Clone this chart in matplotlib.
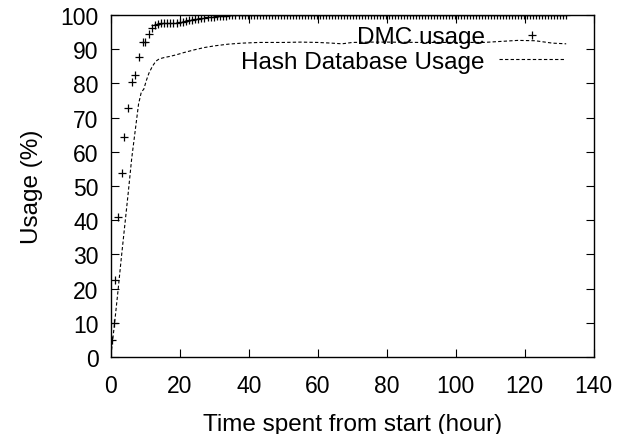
import numpy as np
import matplotlib
matplotlib.use("Agg")
import matplotlib.pyplot as plt

plt.rcParams['font.family'] = ['Liberation Sans', 'DejaVu Sans']

# DMC usage (hours, %)
dmc_hours = [0.2, 0.9, 1.2, 2.1, 3.1, 3.9, 5.0, 6.1, 6.9, 8.0, 9.2, 10.0, 11.0, 11.9,
             12.8, 13.6, 14.5, 15.4, 16.3, 17.2, 18.1, 19.0, 19.9, 20.8, 21.7,
             22.6, 23.5, 24.4, 25.3, 26.2, 27.1, 28.0, 28.9, 29.8, 30.7, 31.6,
             32.5, 33.4, 34.3, 35.2, 36.1, 37.0]
dmc_usage = [5.1, 9.8, 22.5, 41.0, 53.8, 64.2, 72.8, 80.4, 82.5, 87.8, 92.0, 92.2,
             94.4, 96.1, 97.1, 97.5, 97.6, 97.7, 97.7, 97.7, 97.8, 97.8, 97.9,
             98.1, 98.3, 98.5, 98.7, 98.8, 99.0, 99.1, 99.2, 99.3, 99.4, 99.5,
             99.6, 99.7, 99.8, 99.8, 99.9, 99.9, 99.9, 100.0]
# plateau at 100 % until the end of the run
plateau = list(np.arange(38.0, 132.5, 0.87))
dmc_hours += plateau
dmc_usage += [100.0] * len(plateau)

# Hash database usage (hours, %)
hash_hours = [0, 1, 2, 3, 4, 5, 6, 7, 8, 8.8, 9.5, 10.3, 11, 12, 13, 14, 15.5, 17,
              19, 21, 24, 27, 30, 34, 38, 43, 50, 55, 60, 64, 67, 70, 75, 80, 90,
              100, 108, 113, 118, 123, 128, 132]
hash_usage = [0.5, 9.5, 19, 29, 38.5, 48, 58, 66, 74, 77.5, 78.3, 81, 83, 85,
              86.5, 87.2, 87.6, 87.9, 88.4, 89.0, 89.8, 90.5, 91.0, 91.5, 91.8,
              92.0, 92.0, 92.1, 92.0, 91.8, 91.6, 92.0, 92.1, 92.1, 92.0, 92.0,
              92.0, 92.3, 92.6, 92.5, 91.8, 91.6]

fig = plt.figure(figsize=(6.27, 4.35), dpi=100)
ax = fig.add_axes([0.177, 0.177, 0.770, 0.786])

ax.plot(dmc_hours, dmc_usage, linestyle='none', marker='+', markersize=6,
        markeredgewidth=0.9, color='black', label='DMC usage')
ax.plot(hash_hours, hash_usage, linestyle=(0, (3, 2)), linewidth=0.8,
        color='black', label='Hash Database Usage')

ax.set_xlim(0, 140)
ax.set_ylim(0, 100)
ax.set_xticks(np.arange(0, 141, 20))
ax.set_yticks(np.arange(0, 101, 10))
ax.tick_params(direction='in', length=6, width=0.8, top=True, right=True,
               labelsize=16.5, pad=9)
ax.tick_params(axis='x', pad=12)
for s in ax.spines.values():
    s.set_linewidth(1.0)

ax.set_xlabel("Time spent from start (hour)", fontsize=17.5)
ax.set_ylabel("Usage (%)", fontsize=17.5)
ax.xaxis.set_label_coords(0.5, -0.163)
ax.yaxis.set_label_coords(-0.14, 0.5)

ax.legend(loc='upper right', bbox_to_anchor=(0.94, 0.968), frameon=False,
          markerfirst=False, fontsize=17.5, borderpad=0, handlelength=2.7,
          handletextpad=0.6, labelspacing=0.12, borderaxespad=0)

plt.savefig("out.png", dpi=100)
